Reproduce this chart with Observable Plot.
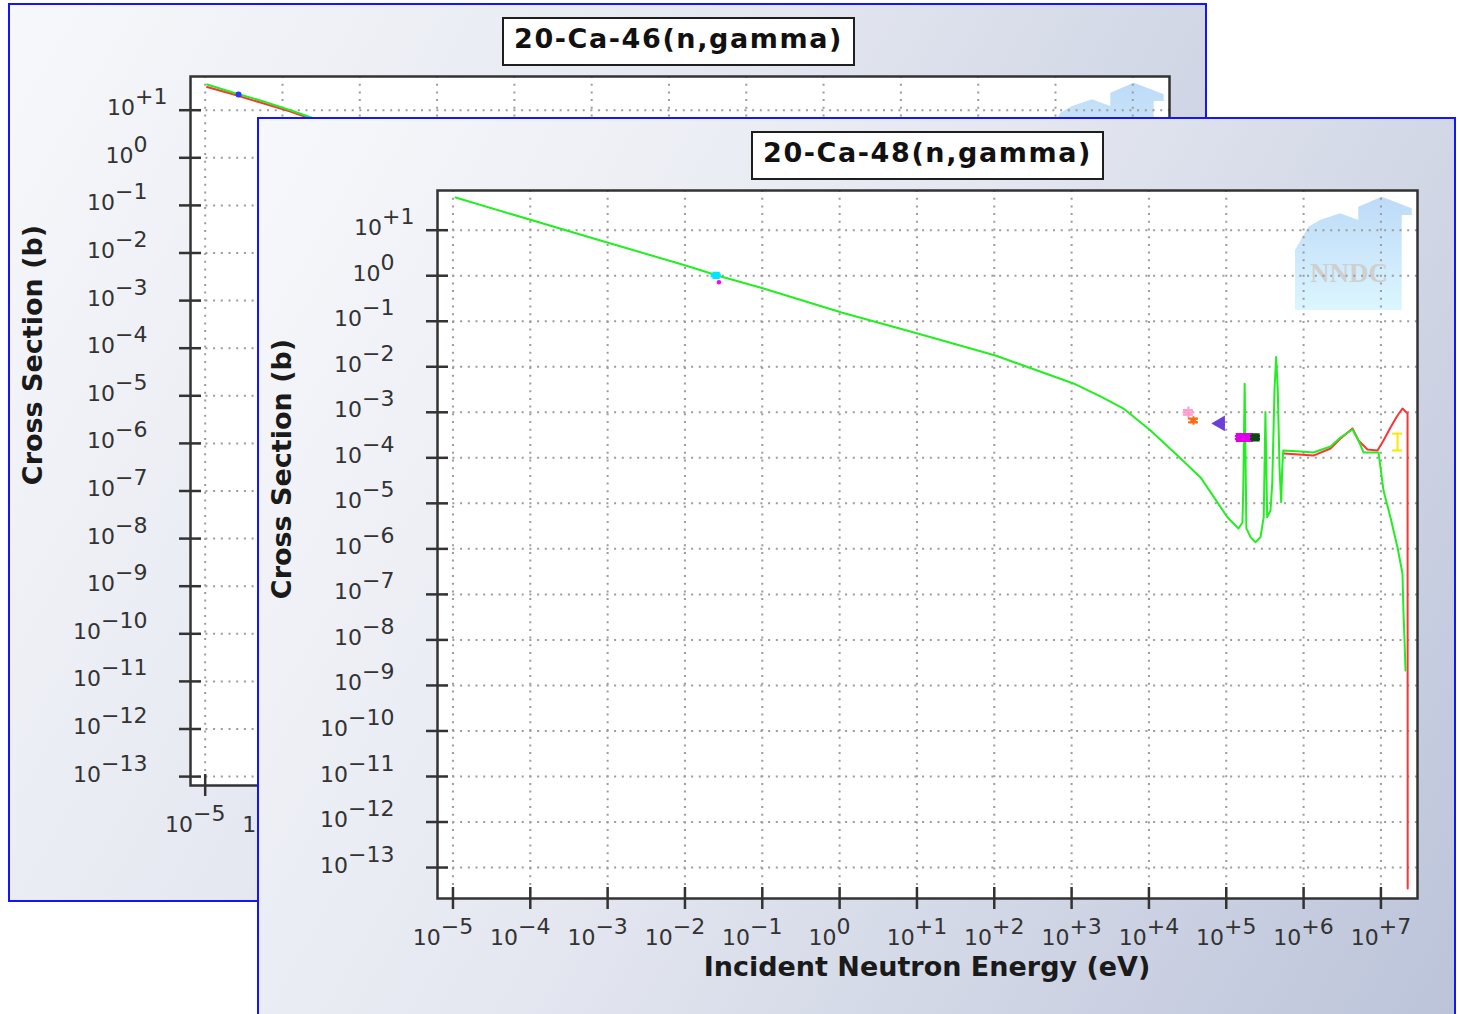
<!DOCTYPE html>
<html>
<head>
<meta charset="utf-8">
<script src="https://cdn.jsdelivr.net/npm/d3@7"></script>
<script src="https://cdn.jsdelivr.net/npm/@observablehq/plot@0.6"></script>
<style>
  html, body { margin: 0; padding: 0; background: #ffffff; }
  body { position: relative; width: 1458px; height: 1014px; overflow: hidden; font-family: "DejaVu Sans", sans-serif; }
  .panel { position: absolute; width: 1199px; height: 899px; box-sizing: border-box; border: 2px solid #1414ff; overflow: hidden;
           background: linear-gradient(120deg, #f7f8fb 0%, #e4e7f0 45%, #bcc4da 100%); }
  .panel > svg { position: absolute; left: 0; top: 0; max-width: none; }
  .title { position: absolute; left: 492px; top: 12px; width: 353px; height: 49px; box-sizing: border-box; border: 2px solid #1e1e1e; background: #fff;
           font: bold 27px "DejaVu Sans", sans-serif; letter-spacing: 1.6px; text-align: center; line-height: 40px; color: #111; white-space: nowrap; }
  .ytitle { position: absolute; left: 22px; top: 350px; transform: translate(-50%, -50%) rotate(-90deg); font: bold 27px "DejaVu Sans", sans-serif;
            line-height: 27px; white-space: nowrap; color: #1a1a1a; }
  .xtitle { position: absolute; left: 668px; top: 834px; transform: translateX(-50%); font: bold 27px "DejaVu Sans", sans-serif;
            line-height: 27px; white-space: nowrap; color: #1a1a1a; }
</style>
</head>
<body>
<script>
// ---------------- Axis ticks ----------------
const xTicks = [1e-5, 1e-4, 1e-3, 1e-2, 1e-1, 1e0, 1e1, 1e2, 1e3, 1e4, 1e5, 1e6, 1e7];
const yTicks = [1e1, 1e0, 1e-1, 1e-2, 1e-3, 1e-4, 1e-5, 1e-6, 1e-7, 1e-8, 1e-9, 1e-10, 1e-11, 1e-12, 1e-13];
// the back panel is mostly covered: only its first x tick labels are visible
const xTicksBackVisible = [1e-5, 1e-4];
const xAxisTitle = "Incident Neutron Energy (eV)";
const yAxisTitle = "Cross Section (b)";

// ---------------- 20-Ca-46(n,gamma) (back panel, visible part) ----------------
const ca46Title = "20-Ca-46(n,gamma)";
const ca46GreenE     = [1.06e-5, 2.12e-5, 5.19e-5, 1.27e-4, 2.30e-4, 5.62e-4];
const ca46GreenSigma = [34.7, 24.4, 16.0, 10.0, 7.13, 4.34];
const ca46RedE       = [1.06e-5, 2.12e-5, 5.19e-5, 1.27e-4, 2.10e-4, 5.62e-4];
const ca46RedSigma   = [30.7, 22.4, 14.5, 9.40, 7.03, 4.23];
const ca46ExpE      = [2.7e-5];
const ca46ExpSigma  = [21.4];
const ca46ExpSigLo  = [21.4];
const ca46ExpSigHi  = [21.4];
const ca46ExpELo    = [2.7e-5];
const ca46ExpEHi    = [2.7e-5];
const ca46ExpColor  = ["#2538ff"];
const ca46ExpSymbol = ["circle"];
const ca46ExpR      = [2];

// ---------------- 20-Ca-48(n,gamma) (front panel) ----------------
const ca48Title = "20-Ca-48(n,gamma)";
const ca48GreenE = [1.08e-5, 8.07e-4, 1.02e-2, 2.63e-2, 0.104, 1.06, 10.2, 103.5, 1057, 2360, 4690, 1.05e4, 2.34e4, 4.65e4,
  1.04e5, 1.44e5, 1.62e5, 1.66e5, 1.73e5, 1.82e5, 2.06e5, 2.39e5, 2.77e5, 3.05e5, 3.21e5, 3.38e5, 3.73e5, 3.93e5, 4.21e5,
  4.42e5, 4.63e5, 4.88e5, 5.13e5, 5.28e5, 5.45e5, 9.12e5, 1.34e6, 2.23e6, 3.00e6, 4.29e6, 5.13e6, 5.96e6, 9.31e6, 1.08e7,
  1.33e7, 1.64e7, 1.90e7, 1.96e7, 2.02e7, 2.08e7];
const ca48GreenSigma = [52.2, 5.94, 1.68, 1.01, 0.525, 0.156, 0.0538, 0.0177, 0.0043, 2.23e-3, 1.21e-3, 3.99e-4, 1.13e-4, 3.71e-5,
  4.90e-6, 2.81e-6, 3.80e-6, 2.26e-5, 4.23e-3, 2.81e-6, 1.81e-6, 1.40e-6, 1.81e-6, 4.97e-6, 1.01e-3, 4.97e-6, 6.97e-6, 2.69e-5, 3.29e-3,
  1.63e-2, 3.33e-3, 6.24e-5, 1.06e-5, 5.27e-5, 1.45e-4, 1.38e-4, 1.31e-4, 1.77e-4, 2.80e-4, 4.19e-4, 2.40e-4, 1.31e-4, 1.31e-4, 1.91e-5,
  4.90e-6, 1.07e-6, 2.88e-7, 3.81e-8, 9.73e-9, 2.13e-9];
const ca48RedE = [5.57e5, 1.34e6, 2.23e6, 3.00e6, 4.29e6, 5.13e6, 6.70e6, 9.04e6, 1.08e7, 1.33e7, 1.64e7, 1.90e7, 2.08e7, 2.21e7, 2.22e7];
const ca48RedSigma = [1.24e-4, 1.12e-4, 1.60e-4, 2.66e-4, 4.42e-4, 2.40e-4, 1.52e-4, 1.45e-4, 2.40e-4, 4.65e-4, 8.51e-4, 1.21e-3, 1.04e-3, 9.42e-4, 3.47e-14];
const ca48ExpE      = [0.0253, 0.0275, 3.24e4, 3.77e4, 8.4e4, 1.52e5, 1.71e5, 1.93e5, 2.39e5, 1.64e7];
const ca48ExpSigma  = [1.02, 0.72, 9.9e-4, 6.6e-4, 5.7e-4, 2.8e-4, 2.8e-4, 2.8e-4, 2.8e-4, 2.4e-4];
const ca48ExpSigLo  = [0.97, 0.72, 8.8e-4, 6.0e-4, 5.4e-4, 2.6e-4, 2.6e-4, 2.6e-4, 2.6e-4, 1.45e-4];
const ca48ExpSigHi  = [1.07, 0.72, 1.12e-3, 7.3e-4, 6.0e-4, 3.0e-4, 3.0e-4, 3.0e-4, 3.0e-4, 3.4e-4];
const ca48ExpELo    = [0.0222, 0.0275, 2.95e4, 3.5e4, 7.9e4, 1.45e5, 1.63e5, 1.84e5, 2.15e5, 1.64e7];
const ca48ExpEHi    = [0.0290, 0.0275, 3.55e4, 4.05e4, 8.9e4, 1.59e5, 1.79e5, 2.02e5, 2.66e5, 1.64e7];
const ca48ExpColor  = ["#00e6ff", "#ff00ff", "#ff9dd0", "#ff6a12", "#6a40d8", "#e000e8", "#e000e8", "#e000e8", "#0d4a12", "#ffe600"];
const ca48ExpSymbol = ["square", "circle", "plus", "asterisk", "triangle", "square", "square", "square", "square", null];
const ca48ExpR      = [3, 1.3, 4, 4, 4.5, 4, 4, 4, 3.5, 0];

// ---------------- helpers ----------------
const NS = "http://www.w3.org/2000/svg";
const expLabel = (axis) => (d) => {
  const e = Math.round(Math.log10(d));
  const s = e > 0 ? "+" + e : e < 0 ? "\u2212" + (-e) : "0";
  return axis + "|10|" + s;
};
const logoPts = [[-122, 60], [-108.7, 36.7], [-97, 30], [-77, 23.3], [-58.7, 30], [-58.7, 16.7], [-35.3, 6.7],
                 [-5.3, 18.3], [-5.3, 25], [-15.3, 25], [-15.3, 120], [-122, 120]];

function expMarks(cfg) {
  const marks = [];
  cfg.expE.forEach((E, i) => {
    const col = cfg.expColor[i];
    const d = [{E, s: cfg.expSigma[i], lo: cfg.expSigLo[i], hi: cfg.expSigHi[i], elo: cfg.expELo[i], ehi: cfg.expEHi[i]}];
    if (d[0].lo < d[0].hi) {
      marks.push(Plot.ruleX(d, {x: "E", y1: "lo", y2: "hi", stroke: col, strokeWidth: 2, clip: true}));
      marks.push(Plot.ruleY(d, {y: "lo", x1: (p) => p.E / 1.16, x2: (p) => p.E * 1.16, stroke: col, strokeWidth: 2, clip: true}));
      marks.push(Plot.ruleY(d, {y: "hi", x1: (p) => p.E / 1.16, x2: (p) => p.E * 1.16, stroke: col, strokeWidth: 2, clip: true}));
    }
    if (d[0].elo < d[0].ehi) {
      marks.push(Plot.ruleY(d, {y: "s", x1: "elo", x2: "ehi", stroke: col, strokeWidth: 2, clip: true}));
    }
    if (cfg.expSymbol[i]) {
      marks.push(Plot.dot(d, {x: "E", y: "s", symbol: cfg.expSymbol[i], r: cfg.expR[i], fill: col, stroke: col,
        strokeWidth: 2, rotate: cfg.expSymbol[i] === "triangle" ? -90 : 0, clip: true}));
    }
  });
  return marks;
}

function buildPanel(cfg) {
  const panel = document.createElement("div");
  panel.className = "panel";
  panel.style.left = cfg.left + "px";
  panel.style.top = cfg.top + "px";
  document.body.appendChild(panel);

  const W = 1195, H = 895;
  const fw = W - cfg.ml - cfg.mr, fh = H - cfg.mt - cfg.mb;
  const green = cfg.greenE.map((E, i) => ({E, s: cfg.greenS[i]}));
  const red = cfg.redE.map((E, i) => ({E, s: cfg.redS[i]}));
  const gridStyle = {stroke: "#9c9c9c", strokeOpacity: 1, strokeWidth: 2, strokeDasharray: "2,5.7"};

  const svg = Plot.plot({
    width: W, height: H,
    marginLeft: cfg.ml, marginRight: cfg.mr, marginTop: cfg.mt, marginBottom: cfg.mb,
    style: {background: "transparent", fontFamily: "DejaVu Sans", fontSize: "22px", color: "#333", overflow: "visible"},
    x: {type: "log", domain: cfg.xDomain},
    y: {type: "log", domain: cfg.yDomain},
    marks: [
      Plot.frame({fill: "white", stroke: "none"}),
      Plot.gridX(xTicks, gridStyle),
      Plot.gridY(yTicks, gridStyle),
      Plot.line(red, {x: "E", y: "s", stroke: "#ff3333", strokeWidth: 2, clip: true}),
      Plot.line(green, {x: "E", y: "s", stroke: "#22ee22", strokeWidth: 2, clip: true}),
      ...expMarks(cfg),
      Plot.frame({stroke: "#333", strokeWidth: 2.5}),
      Plot.tickY(yTicks, {y: (d) => d, stroke: "#333", strokeWidth: 2.5, insetLeft: -11, insetRight: fw - 11}),
      Plot.tickX(xTicks, {x: (d) => d, stroke: "#333", strokeWidth: 2.5, insetTop: fh - 11, insetBottom: -11}),
      Plot.axisY(yTicks, {anchor: "left", tickSize: 0, tickPadding: 43, tickFormat: expLabel("y"), fontSize: 22, dy: -2, label: null}),
      Plot.axisX(cfg.xLabelTicks, {anchor: "bottom", tickSize: 0, tickPadding: 31, tickFormat: expLabel("x"), fontSize: 22, label: null})
    ]
  });

  // superscript tick labels
  svg.querySelectorAll("text").forEach((t) => {
    const s = t.textContent;
    if (!s.includes("|")) return;
    const [axis, base, ex] = s.split("|");
    t.textContent = "";
    const a = document.createElementNS(NS, "tspan"); a.textContent = base; t.appendChild(a);
    const b = document.createElementNS(NS, "tspan"); b.setAttribute("dy", "-11"); b.textContent = ex; t.appendChild(b);
    let dx = 0;
    if (axis === "y" && ex.startsWith("+")) dx = 20;
    if (axis === "x" && !ex.startsWith("+")) dx = -10;
    if (dx) t.setAttribute("transform", (t.getAttribute("transform") || "") + ` translate(${dx},0)`);
  });

  // NNDC watermark logo, right after the white frame fill
  const fr = W - cfg.mr, ft = cfg.mt;
  const g = document.createElementNS(NS, "g");
  const pts = logoPts.map(([x, y]) => `${fr + x},${ft + y}`).join(" ");
  g.innerHTML = `<defs><linearGradient id="${cfg.id}-logo" x1="0" y1="0" x2="0" y2="1">
      <stop offset="0" stop-color="#bddaf8"/><stop offset="1" stop-color="#dcf6fe"/></linearGradient></defs>
    <polygon points="${pts}" fill="url(#${cfg.id}-logo)"/>` +
    (cfg.logoText ? `<text x="${fr - 68}" y="${ft + 92}" text-anchor="middle" font-family="Liberation Serif" font-weight="bold" font-size="27" fill="#cfcfcf">NNDC</text>` : "");
  const frameEl = svg.querySelector('[aria-label="frame"]');
  if (frameEl) frameEl.after(g); else svg.appendChild(g);

  panel.appendChild(svg);

  const title = document.createElement("div");
  title.className = "title"; title.textContent = cfg.title; panel.appendChild(title);
  const yt = document.createElement("div");
  yt.className = "ytitle"; yt.textContent = yAxisTitle; panel.appendChild(yt);
  if (cfg.xTitle) {
    const xt = document.createElement("div");
    xt.className = "xtitle"; xt.textContent = xAxisTitle; panel.appendChild(xt);
  }
}

buildPanel({
  id: "ca46", left: 8, top: 3, title: ca46Title, xLabelTicks: xTicksBackVisible, xTitle: false, logoText: false,
  ml: 180, mt: 71, mr: 36, mb: 115,
  xDomain: [10 ** -5.19, 10 ** 7.475], yDomain: [10 ** -13.187, 10 ** 1.708],
  greenE: ca46GreenE, greenS: ca46GreenSigma, redE: ca46RedE, redS: ca46RedSigma,
  expE: ca46ExpE, expSigma: ca46ExpSigma, expSigLo: ca46ExpSigLo, expSigHi: ca46ExpSigHi,
  expELo: ca46ExpELo, expEHi: ca46ExpEHi, expColor: ca46ExpColor, expSymbol: ca46ExpSymbol, expR: ca46ExpR
});
buildPanel({
  id: "ca48", left: 257, top: 117, title: ca48Title, xLabelTicks: xTicks, xTitle: true, logoText: true,
  ml: 178, mt: 71, mr: 37, mb: 116,
  xDomain: [10 ** -5.2, 10 ** 7.473], yDomain: [10 ** -13.68, 10 ** 1.872],
  greenE: ca48GreenE, greenS: ca48GreenSigma, redE: ca48RedE, redS: ca48RedSigma,
  expE: ca48ExpE, expSigma: ca48ExpSigma, expSigLo: ca48ExpSigLo, expSigHi: ca48ExpSigHi,
  expELo: ca48ExpELo, expEHi: ca48ExpEHi, expColor: ca48ExpColor, expSymbol: ca48ExpSymbol, expR: ca48ExpR
});
</script>
</body>
</html>
